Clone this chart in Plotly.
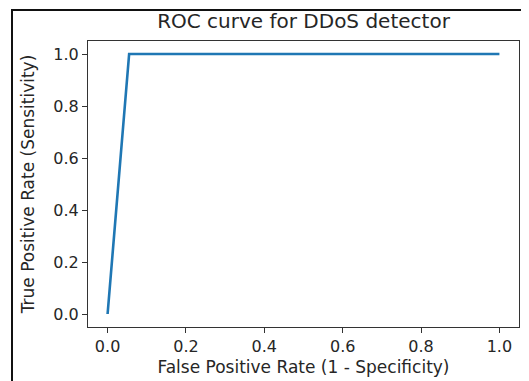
import plotly.graph_objects as go

fpr = [0.0, 0.055, 1.0]
tpr = [0.0, 1.0, 1.0]
tick_vals = [0.0, 0.2, 0.4, 0.6, 0.8, 1.0]
tick_text = ["0.0", "0.2", "0.4", "0.6", "0.8", "1.0"]

# page body has an 8px margin, so the figure is 8px smaller than the window
W, H = 521, 373
L, R, T, B = 80, 10, 33, 54
pw, ph = W - L - R, H - T - B

TXT = "#262626"
tickfont = dict(family="DejaVu Sans", size=16, color=TXT)
labelfont = dict(family="DejaVu Sans", size=17, color=TXT)

fig = go.Figure()
fig.add_trace(go.Scatter(x=fpr, y=tpr, mode="lines",
                         line=dict(color="#1f77b4", width=2.6), showlegend=False))

axis_common = dict(
    showgrid=False, zeroline=False, showline=True, mirror=True,
    linecolor="#333333", linewidth=1.2,
    ticks="outside", ticklen=5, tickwidth=1.2, tickcolor="#333333",
    tickvals=tick_vals, ticktext=tick_text, tickfont=tickfont,
    range=[-0.05, 1.05], automargin=False,
)

fig.update_layout(
    width=W, height=H,
    margin=dict(l=L, r=R, t=T, b=B, autoexpand=False),
    paper_bgcolor="white", plot_bgcolor="white",
    font=tickfont,
    title=dict(text="ROC curve for DDoS detector", x=(L + pw / 2) / W, xanchor="center",
               y=1 - 13 / H, yanchor="middle", yref="container", automargin=False,
               font=dict(family="DejaVu Sans", size=20, color=TXT)),
    xaxis=dict(axis_common, title=dict(text="False Positive Rate (1 - Specificity)",
                                        font=labelfont, standoff=5)),
    yaxis=dict(axis_common, title=dict(text="True Positive Rate (Sensitivity)",
                                        font=labelfont, standoff=14)),
)

# outer frame (top and left edges of the captured figure)
fig.add_shape(type="rect", xref="paper", yref="paper",
              x0=(4 - L) / pw, x1=(W + 20 - L) / pw,
              y0=-(H + 20 - T - ph) / ph, y1=1 + (T - 2) / ph,
              line=dict(color="#111111", width=2), fillcolor="rgba(0,0,0,0)", layer="below")

fig.write_html("out.html")
